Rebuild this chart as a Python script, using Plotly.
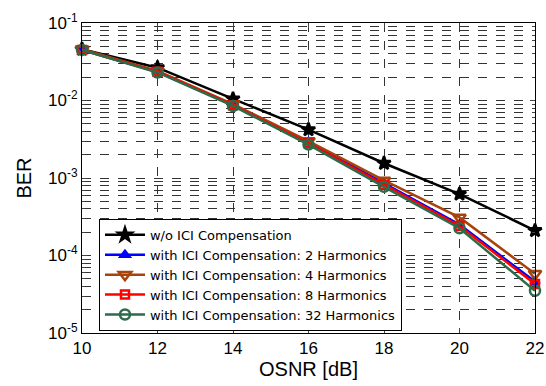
import plotly.graph_objects as go

osnr = [10, 12, 14, 16, 18, 20, 22]
ber_wo = [0.046, 0.0265, 0.0105, 0.0042, 0.00155, 0.00062, 0.00021]
ber_h2 = [0.045, 0.0235, 0.0088, 0.0029, 0.00085, 0.00025, 4.6e-5]
ber_h4 = [0.046, 0.024, 0.0090, 0.0030, 0.00093, 0.00031, 5.8e-5]
ber_h8 = [0.045, 0.0235, 0.0087, 0.0028, 0.00082, 0.00024, 4.3e-5]
ber_h32 = [0.045, 0.0230, 0.0085, 0.0027, 0.00077, 0.000225, 3.5e-5]

names = ["w/o ICI Compensation",
         "with ICI Compensation: 2 Harmonics",
         "with ICI Compensation: 4 Harmonics",
         "with ICI Compensation: 8 Harmonics",
         "with ICI Compensation: 32 Harmonics"]

ytick_vals = [1e-5, 1e-4, 1e-3, 1e-2, 1e-1]
ytick_text = ["10<sup>-5</sup>", "10<sup>-4</sup>", "10<sup>-3</sup>", "10<sup>-2</sup>", "10<sup>-1</sup>"]
xtick_vals = [10, 12, 14, 16, 18, 20, 22]

series = [
    (ber_wo, "black", "star", "black", 10),
    (ber_h2, "#0000FF", "triangle-up", "#0000FF", 8),
    (ber_h4, "#A8430C", "triangle-down-open", "#A8430C", 11),
    (ber_h8, "#FF0000", "square-open", "#FF0000", 8),
    (ber_h32, "#2E6B4A", "circle-open", "#2E6B4A", 10),
]

fig = go.Figure()
for (ys, col, sym, mcol, ms), name in zip(series, names):
    fig.add_trace(go.Scatter(
        x=osnr, y=ys, name=name, mode="lines+markers",
        line=dict(color=col, width=2.5),
        marker=dict(symbol=sym, size=ms, color=mcol, line=dict(color=mcol, width=2.5)),
        cliponaxis=False,
    ))

minor_y = [m * 10 ** e for e in range(-5, -1) for m in range(2, 10)]

fig.update_layout(
    width=546, height=386,
    margin=dict(l=82, r=11, t=23, b=53),
    paper_bgcolor="white", plot_bgcolor="white",
    font=dict(family="Liberation Sans, Arial, sans-serif", size=17, color="black"),
    showlegend=True,
    legend=dict(x=0.0375, y=0.368, xanchor="left", yanchor="top",
                bgcolor="white", bordercolor="black", borderwidth=1,
                font=dict(family="DejaVu Sans, sans-serif", size=13),
                tracegroupgap=0, itemwidth=40),
    xaxis=dict(
        range=[10, 22], tickvals=xtick_vals, ticks="inside", ticklen=5,
        showline=True, linecolor="black", linewidth=1, mirror="ticks",
        showgrid=True, gridcolor="#333", griddash="dash", gridwidth=1,
        zeroline=False, automargin=False,
        title=dict(text="OSNR [dB]", standoff=3),
    ),
    yaxis=dict(
        type="log", range=[-5, -1], tickvals=ytick_vals, ticktext=ytick_text,
        ticks="inside", ticklen=5,
        showline=True, linecolor="black", linewidth=1, mirror="ticks",
        showgrid=True, gridcolor="#333", griddash="dash", gridwidth=1,
        zeroline=False, automargin=False,
        minor=dict(tickvals=minor_y, ticks="inside", ticklen=3,
                   showgrid=True, gridcolor="#333", griddash="dash", gridwidth=1),
        title=dict(text="BER", standoff=11),
    ),
)

fig.write_html("out.html", config={"displayModeBar": False},
               post_script="document.body.style.margin='0';")
